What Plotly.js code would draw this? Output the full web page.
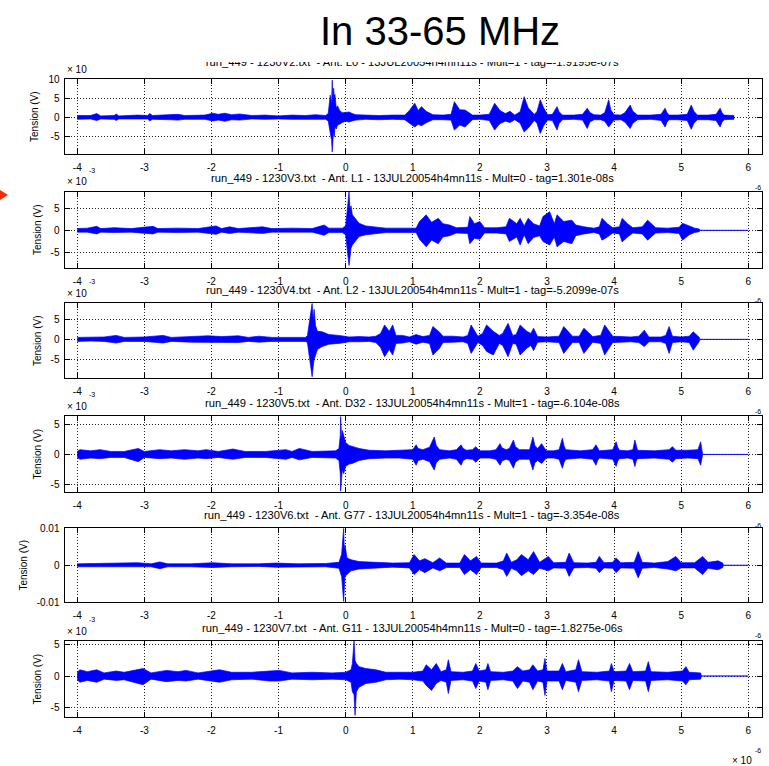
<!DOCTYPE html>
<html><head><meta charset="utf-8">
<script src="https://cdn.plot.ly/plotly-3.0.1.min.js"></script>
<style>html,body{margin:0;padding:0;background:#fff}#chart{width:769px;height:766px}</style>
</head><body><div id="chart"></div>
<script>
// ---------- DATA (time in 1e-6 s, amplitude envelope: upper / lower) ----------
const X_TICKS = [-4,-3,-2,-1,0,1,2,3,4,5,6];
const X_TICK_LABELS = ['-4','-3','-2','-1','0','1','2','3','4','5','6'];

const TITLES = [
 'run_449 - 1230V2.txt  - Ant. L0 - 13JUL20054h4mn11s - Mult=1 - tag=-1.9195e-07s',
 'run_449 - 1230V3.txt  - Ant. L1 - 13JUL20054h4mn11s - Mult=0 - tag=1.301e-08s',
 'run_449 - 1230V4.txt  - Ant. L2 - 13JUL20054h4mn11s - Mult=1 - tag=-5.2099e-07s',
 'run_449 - 1230V5.txt  - Ant. D32 - 13JUL20054h4mn11s - Mult=1 - tag=-6.104e-08s',
 'run_449 - 1230V6.txt  - Ant. G77 - 13JUL20054h4mn11s - Mult=1 - tag=-3.354e-08s',
 'run_449 - 1230V7.txt  - Ant. G11 - 13JUL20054h4mn11s - Mult=0 - tag=-1.8275e-06s'
];

// Panel 1 (x 1e-3 V)
const T1 = [-4.0,-3.8,-3.71,-3.65,-3.45,-3.42,-3.38,-3.1,-2.95,-2.92,
 -2.88,-2.6,-2.5,-2.4,-2.1,-1.98,-1.9,-1.8,-1.7,-1.58,
 -1.4,-1.2,-1.0,-0.8,-0.6,-0.45,-0.3,-0.26,-0.23,-0.21,
 -0.2,-0.19,-0.18,-0.17,-0.16,-0.14,-0.12,-0.09,-0.05,0.0,
 0.05,0.1,0.15,0.3,0.5,0.7,0.88,0.95,1.03,1.08,
 1.13,1.2,1.3,1.45,1.57,1.62,1.7,1.78,1.89,2.0,
 2.14,2.22,2.3,2.38,2.45,2.52,2.6,2.66,2.72,2.81,
 2.85,2.9,2.95,3.01,
 3.08,3.15,3.18,3.23,3.4,3.53,3.6,3.64,3.7,3.8,
 3.86,3.92,3.95,4.0,4.1,4.16,4.24,4.28,4.35,4.55,
 4.7,4.76,4.79,4.82,4.95,5.09,5.15,5.19,5.24,5.4,
 5.52,5.58,5.61,5.64,5.79];
const HI1 = [0.5,0.5,1.0,0.4,0.5,0.9,0.4,0.6,0.5,1.0,
 0.5,0.7,0.8,0.5,0.6,1.1,0.8,1.1,0.7,0.9,
 0.5,0.6,0.4,0.6,0.5,0.7,0.5,1.0,5.8,3.5,
 9.7,4,7.6,5.5,6,2.5,3,1.8,1.2,1.3,
 1.4,1.0,0.7,0.6,0.5,0.6,0.6,1.8,3.7,1.8,
 2.8,1.6,0.7,0.6,0.8,4.1,2,1.9,0.6,0.6,
 0.8,3.7,1.8,1.0,1.6,0.6,1.5,5.4,2.5,0.8,
 1.5,4.6,2.5,0.7,
 0.8,2.8,1.5,0.6,0.6,0.8,2.4,1.3,0.7,0.6,
 1.2,4.6,2.0,0.7,0.6,1.2,3.2,1.6,0.6,0.6,
 0.8,2.4,1.2,0.6,0.6,0.8,3.2,1.6,0.6,0.6,
 0.8,2.4,1.2,0.6,0.5];
const LO1 = [-0.5,-0.4,-0.8,-0.4,-0.5,-0.8,-0.4,-0.5,-0.4,-0.9,
 -0.5,-0.6,-0.7,-0.5,-0.5,-0.9,-0.7,-1.0,-0.6,-0.7,
 -0.4,-0.5,-0.4,-0.5,-0.5,-0.6,-0.5,-0.9,-4.5,-6,
 -9.0,-7,-3.5,-5,-2.5,-3,-2,-1.8,-1.3,-1.0,
 -1.2,-0.9,-0.7,-0.5,-0.6,-0.5,-0.6,-1.5,-2.5,-1.8,
 -2.2,-1.4,-0.6,-0.6,-0.7,-3.3,-2,-2.5,-0.6,-0.5,
 -0.8,-3.3,-1.6,-1.0,-1.3,-0.6,-1.5,-3.8,-2.8,-0.8,
 -1.5,-4.2,-2.2,-0.7,
 -0.8,-3.3,-1.6,-0.6,-0.5,-0.7,-2.9,-1.2,-0.6,-0.6,
 -1,-2.5,-1.8,-0.7,-0.6,-1.2,-2.9,-1.5,-0.6,-0.5,
 -0.8,-2.5,-1.2,-0.6,-0.6,-0.8,-3.1,-1.5,-0.6,-0.6,
 -0.8,-2.5,-1.2,-0.6,-0.5];

// Panel 2 (x 1e-3 V)
const T2 = [-4.0,-3.85,-3.71,-3.65,-3.45,-3.2,-2.87,-2.8,-2.5,-2.2,
 -1.93,-1.85,-1.73,-1.6,-1.24,-1.1,-0.8,-0.5,-0.32,-0.25,
 -0.05,0.0,0.03,0.05,0.065,0.08,0.1,0.14,0.2,0.3,
 0.45,0.6,0.8,1.05,1.1,1.2,1.28,1.38,1.45,1.55,
 1.65,1.82,1.85,1.92,2.0,2.07,2.25,2.39,2.44,2.55,
 2.6,2.66,2.72,2.8,2.89,2.94,3.04,3.11,3.15,3.25,
 3.37,3.43,3.55,3.7,3.78,3.82,3.9,3.98,4.08,4.12,
 4.2,4.28,4.42,4.5,4.62,4.8,4.97,5.02,5.12,5.2,
 5.27,5.28,6.0];
const HI2 = [0.4,0.5,0.9,0.4,0.6,0.4,0.9,0.4,0.5,0.4,
 1.0,0.4,0.8,0.4,0.8,0.4,0.5,0.4,1.2,0.5,
 0.5,1.0,5.4,8.7,4.5,5.5,3.5,2.8,1.6,1.0,
 0.8,0.5,0.5,0.5,2.0,3.5,1.8,2.7,1.5,1.2,
 0.6,0.7,3.1,1.5,2.0,0.6,0.6,0.8,2.7,1.5,
 2.7,1.0,2.7,1.5,1.0,3.1,4.2,1.5,3.5,2.0,
 2.3,1.2,0.8,0.5,0.8,2.7,1.5,0.6,0.8,2.7,
 1.5,0.6,0.8,2.3,0.6,0.5,0.7,1.6,1.0,0.5,
 0.3,0,0];
const LO2 = [-0.4,-0.4,-0.8,-0.4,-0.5,-0.4,-0.8,-0.4,-0.5,-0.4,
 -0.9,-0.4,-0.7,-0.4,-0.7,-0.4,-0.4,-0.4,-1.1,-0.5,
 -0.5,-1.0,-5.2,-7.9,-6,-4,-3.3,-2.5,-1.4,-1.0,
 -0.7,-0.5,-0.5,-0.5,-2.0,-3.7,-2.2,-3.0,-1.5,-1.2,
 -0.6,-0.7,-3.0,-1.8,-2.0,-0.6,-0.6,-0.8,-2.5,-1.5,
 -3.3,-1.0,-3.0,-1.6,-1.2,-2.5,-3.3,-1.5,-3.7,-2.5,
 -3.0,-1.2,-0.8,-0.5,-0.8,-2.2,-1.5,-0.6,-0.8,-2.6,
 -1.5,-0.6,-0.8,-2.2,-0.6,-0.5,-0.7,-2.2,-1.0,-0.5,
 -0.3,0,0];

// Panel 3 (x 1e-3 V)
const T3 = [-4.0,-3.8,-3.6,-3.42,-3.3,-3.0,-2.72,-2.6,-2.3,-2.05,
 -1.85,-1.6,-1.45,-1.29,-1.1,-0.8,-0.6,-0.57,-0.55,-0.52,
 -0.5,-0.485,-0.47,-0.45,-0.42,-0.35,-0.25,-0.1,0.05,0.2,
 0.35,0.45,0.52,0.58,0.65,0.7,0.75,0.85,0.95,1.05,
 1.15,1.25,1.3,1.4,1.45,1.6,1.75,1.82,1.87,1.97,
 2.04,2.1,2.2,2.29,2.34,2.42,2.49,2.54,2.6,2.7,
 2.76,2.8,2.86,3.0,3.18,3.25,3.38,3.48,3.55,3.68,
 3.8,3.86,3.98,4.1,4.25,4.37,4.45,4.52,4.7,4.77,
 4.82,4.87,5.0,5.12,5.18,5.27,5.28,6.0];
const HI3 = [0.5,0.5,0.6,1.0,0.5,0.6,1.0,0.5,0.8,0.9,
 0.7,0.9,0.5,0.8,0.5,0.6,0.5,0.9,3,6,
 9,5,7.5,3.5,2,1.9,1.2,1.0,0.6,0.7,
 0.6,0.8,1.5,3.6,2.0,3.6,1.0,1.0,0.6,1.2,
 0.7,1.0,3.2,1.8,0.8,0.8,0.6,1.0,3.6,0.8,
 1.5,3.6,2.0,1.0,1.5,4.0,1.0,1.2,3.6,2.0,
 1.5,2.8,0.7,0.6,0.8,3.2,0.8,0.8,2.8,0.7,
 1.0,3.6,0.8,0.7,0.6,0.8,2.3,0.6,0.6,1.0,
 3.2,0.8,0.6,0.8,1.9,0.5,0,0];
const LO3 = [-0.5,-0.4,-0.5,-0.9,-0.5,-0.5,-0.9,-0.5,-0.7,-0.8,
 -0.7,-0.8,-0.5,-0.7,-0.5,-0.5,-0.5,-0.8,-3,-6.8,
 -9.3,-7,-5,-4,-2.5,-1.8,-1.2,-1.0,-0.6,-0.6,
 -0.5,-0.8,-2.0,-4.3,-2.5,-3.9,-1.0,-0.9,-0.6,-1.2,
 -0.7,-1.0,-3.9,-2.2,-0.8,-0.7,-0.6,-1.0,-3.5,-0.8,
 -1.5,-3.0,-3.9,-1.0,-1.5,-4.3,-1.0,-1.2,-3.9,-2.2,
 -1.5,-2.8,-0.7,-0.6,-0.8,-3.5,-0.8,-0.8,-3.5,-0.7,
 -1.0,-3.9,-0.8,-0.7,-0.6,-0.8,-1.8,-0.6,-0.6,-1.0,
 -3.5,-0.8,-0.6,-0.8,-2.7,-0.5,0,0];

// Panel 4 (x 1e-3 V)
const T4 = [-4.0,-3.96,-3.8,-3.66,-3.5,-3.3,-3.09,-3.0,-2.77,-2.6,
 -2.4,-2.2,-2.08,-1.9,-1.68,-1.5,-1.2,-0.89,-0.8,-0.69,
 -0.5,-0.3,-0.15,-0.1,-0.08,-0.075,-0.06,-0.05,-0.03,0.0,
 0.05,0.1,0.2,0.35,0.6,0.8,1.0,1.05,1.08,1.15,
 1.25,1.32,1.35,1.4,1.55,1.65,1.72,1.75,1.8,1.89,
 1.94,1.97,2.0,2.15,2.24,2.3,2.33,2.39,2.44,2.5,
 2.53,2.59,2.74,2.79,2.82,2.86,2.92,2.99,3.1,3.18,
 3.23,3.255,3.28,3.5,3.68,3.73,3.755,3.78,3.98,4.03,
 4.055,4.08,4.2,4.28,4.31,4.33,4.35,4.6,4.82,4.87,
 4.895,4.92,5.1,5.25,5.29,5.31,5.32,6.0];
const HI4 = [0.5,0.8,0.6,0.8,0.5,0.5,1.0,0.5,0.8,0.6,
 0.8,0.6,0.8,0.5,0.9,0.5,0.5,0.8,0.5,1.0,
 0.5,0.5,0.6,1.0,3.2,6.3,2.5,4.0,3.2,2.0,
 1.5,1.3,1.0,0.7,0.6,0.7,0.8,1.6,1.0,0.8,
 1.2,2.9,1.5,0.8,0.6,0.8,1.6,1.0,0.7,0.8,
 1.3,0.9,0.6,0.6,0.8,1.8,1.1,0.8,1.0,2.4,
 1.3,0.8,0.8,2.9,1.5,1.0,1.8,0.6,0.6,0.8,
 2.7,1.4,0.8,0.6,0.8,1.6,1.0,0.6,0.8,2.1,
 1.2,0.7,0.6,0.8,2.4,1.3,0.7,0.6,0.8,1.3,
 0.9,0.7,0.7,0.8,2.1,0.5,0,0];
const LO4 = [-0.5,-0.8,-0.6,-0.7,-0.5,-0.5,-1.2,-0.5,-0.7,-0.6,
 -0.8,-0.6,-0.7,-0.5,-0.8,-0.5,-0.5,-0.8,-0.5,-0.9,
 -0.5,-0.5,-0.6,-1.0,-3.2,-6.1,-4.5,-2.5,-3.2,-2.0,
 -1.6,-1.5,-1.0,-0.7,-0.6,-0.6,-0.8,-1.8,-1.0,-0.8,
 -1.2,-2.6,-1.4,-0.8,-0.6,-0.8,-1.8,-1.0,-0.7,-0.8,
 -1.3,-0.9,-0.6,-0.6,-0.8,-1.8,-1.1,-0.8,-1.0,-2.3,
 -1.3,-0.8,-0.8,-2.6,-1.4,-1.0,-1.5,-0.6,-0.6,-0.8,
 -2.3,-1.3,-0.8,-0.6,-0.8,-1.8,-1.0,-0.6,-0.8,-2.0,
 -1.1,-0.7,-0.6,-0.8,-2.0,-1.1,-0.7,-0.6,-0.8,-1.3,
 -0.9,-0.7,-0.6,-0.7,-1.8,-0.5,0,0];

// Panel 5 (V)
const T5 = [-4.0,-3.7,-3.4,-3.1,-2.9,-2.77,-2.65,-2.3,-1.98,-1.7,
 -1.3,-1.04,-0.7,-0.3,-0.1,-0.06,-0.03,-0.02,-0.01,0.02,
 0.08,0.2,0.45,0.7,0.95,1.02,1.1,1.18,1.3,1.4,
 1.5,1.7,1.77,1.86,1.95,2.02,2.25,2.35,2.4,2.47,
 2.55,2.62,2.72,2.8,2.89,3.02,3.1,3.28,3.33,3.4,
 3.6,3.73,3.78,3.85,3.98,4.03,4.1,4.3,4.36,4.42,
 4.6,4.8,4.92,5.0,5.2,5.32,5.4,5.55,5.62,5.63,
 6.0];
const HI5 = [0.0004,0.0005,0.0004,0.0007,0.0004,0.0009,0.0004,0.0004,0.0007,0.0004,
 0.0004,0.0006,0.0004,0.0005,0.0008,0.003,0.01,0.004,0.0055,0.002,
 0.0015,0.001,0.0008,0.0006,0.0007,0.0029,0.0012,0.0018,0.0007,0.002,
 0.0006,0.0006,0.0029,0.0012,0.0024,0.0006,0.0006,0.0012,0.0033,0.0008,
 0.0015,0.0029,0.0015,0.0037,0.0008,0.0024,0.0007,0.0008,0.0033,0.0007,
 0.0006,0.0008,0.0024,0.0007,0.0008,0.002,0.0007,0.0008,0.0037,0.0008,
 0.0006,0.001,0.0024,0.0007,0.0007,0.0024,0.0008,0.0012,0.0006,0,
 0];
const LO5 = [-0.0004,-0.0004,-0.0004,-0.0006,-0.0004,-0.0009,-0.0004,-0.0004,-0.0006,-0.0004,
 -0.0003,-0.0005,-0.0004,-0.0004,-0.0008,-0.003,-0.0098,-0.006,-0.003,-0.0025,
 -0.0015,-0.001,-0.0007,-0.0005,-0.0007,-0.0025,-0.0012,-0.002,-0.0007,-0.0015,
 -0.0006,-0.0006,-0.0025,-0.0012,-0.0025,-0.0006,-0.0006,-0.0012,-0.003,-0.0008,
 -0.0015,-0.0028,-0.0015,-0.0025,-0.0008,-0.0015,-0.0007,-0.0008,-0.003,-0.0007,
 -0.0006,-0.0008,-0.002,-0.0007,-0.0008,-0.002,-0.0007,-0.0008,-0.0034,-0.0008,
 -0.0006,-0.001,-0.0015,-0.0007,-0.0007,-0.0025,-0.0008,-0.0012,-0.0006,0,
 0];

// Panel 6 (x 1e-3 V)
const T6 = [-4.0,-3.96,-3.85,-3.71,-3.6,-3.42,-3.3,-3.02,-2.9,-2.67,
 -2.5,-2.38,-2.2,-1.88,-1.7,-1.4,-1.13,-0.99,-0.8,-0.5,
 -0.2,0.0,0.08,0.1,0.125,0.14,0.16,0.2,0.3,0.45,
 0.6,0.8,1.0,1.15,1.2,1.28,1.35,1.42,1.5,1.53,
 1.57,1.75,1.89,1.94,1.99,2.09,2.12,2.16,2.35,2.49,
 2.56,2.64,2.74,2.79,2.86,2.94,2.97,3.0,3.18,3.23,
 3.28,3.43,3.47,3.52,3.75,3.93,3.96,4.0,4.18,4.23,
 4.28,4.47,4.51,4.55,4.8,5.02,5.07,5.12,5.29,5.3,
 6.0];
const HI6 = [0.6,1.0,0.7,1.0,0.5,0.8,0.6,1.2,0.5,0.9,
 0.7,0.9,0.5,1.0,0.6,0.6,0.8,0.9,0.5,0.6,
 0.5,0.6,1.0,2.0,5.6,2.5,2.0,1.5,1.2,1.0,
 0.6,0.6,0.6,0.8,1.8,1.0,2.0,0.7,1.0,2.6,
 0.7,0.6,0.8,2.0,0.8,1.0,2.0,0.7,0.6,0.8,
 1.5,0.8,1.0,1.8,0.8,1.0,2.8,0.8,0.8,2.0,
 0.7,1.0,2.6,0.7,0.6,0.8,2.0,0.7,0.8,2.0,
 0.7,0.8,2.3,0.7,0.6,0.8,1.5,0.6,0.5,0,
 0];
const LO6 = [-0.6,-1.0,-0.7,-1.0,-0.5,-0.7,-0.6,-1.4,-0.5,-0.9,
 -0.7,-0.8,-0.5,-1.0,-0.6,-0.5,-0.8,-0.8,-0.5,-0.6,
 -0.5,-0.6,-1.0,-2.5,-3.0,-6.3,-2.5,-1.8,-1.2,-1.0,
 -0.6,-0.5,-0.6,-0.8,-1.5,-2.3,-1.2,-0.7,-1.0,-2.8,
 -0.7,-0.6,-0.8,-2.0,-0.8,-1.0,-2.2,-0.7,-0.6,-0.8,
 -2.0,-0.8,-1.0,-2.2,-0.8,-1.0,-3.1,-0.8,-0.8,-2.2,
 -0.7,-1.0,-2.5,-0.7,-0.6,-0.8,-2.5,-0.7,-0.8,-2.2,
 -0.7,-0.8,-2.5,-0.7,-0.6,-0.8,-1.4,-0.6,-0.5,0,
 0];

const Y_TICKS_1 = [-5,0,5,10];
const Y_TICKS_STD = [-5,0,5];
const Y_TICKS_5 = [-0.01,0,0.01];
const Y_TICK_LABELS_5 = ['-0.01','0','0.01'];

// ---------- LAYOUT ----------
const W = 769, H = 766;
const fx = p => p / W;
const fy = p => 1 - p / H;
const FONT = 'Liberation Sans, Arial, Helvetica, sans-serif';
const BLUE = '#0000ff';
const XRANGE = [-4.19, 6.2];
const XDOM = [fx(64.5), fx(761.7)];

const panels = [
  {t:T1, hi:HI1, lo:LO1, top:79,    bot:154.3, yr:[-9.6,10],   tv:Y_TICKS_1,   tt:Y_TICKS_1.map(String), exp:true},
  {t:T2, hi:HI2, lo:LO2, top:191.7, bot:267.7, yr:[-8.4,8.7],  tv:Y_TICKS_STD, tt:Y_TICKS_STD.map(String), exp:true},
  {t:T3, hi:HI3, lo:LO3, top:303.3, bot:378.3, yr:[-9.7,9.0],  tv:Y_TICKS_STD, tt:Y_TICKS_STD.map(String), exp:true},
  {t:T4, hi:HI4, lo:LO4, top:416,   bot:492.3, yr:[-6.3,6.4],  tv:Y_TICKS_STD, tt:Y_TICKS_STD.map(String), exp:true},
  {t:T5, hi:HI5, lo:LO5, top:528.3, bot:602.3, yr:[-0.01,0.01],tv:Y_TICKS_5,   tt:Y_TICK_LABELS_5, exp:false},
  {t:T6, hi:HI6, lo:LO6, top:641,   bot:717.3, yr:[-6.6,5.6],  tv:Y_TICKS_STD, tt:Y_TICKS_STD.map(String), exp:true}
];

const data = [];
const layout = {
  width: W, height: H,
  margin: {l:0, r:0, t:0, b:0},
  paper_bgcolor: '#ffffff', plot_bgcolor: '#ffffff',
  showlegend: false,
  font: {family: FONT, size: 10, color: '#000'},
  annotations: [], shapes: []
};

const SUBTITLE_SIZE = 11.2;

panels.forEach((p, i) => {
  const k = i + 1;
  const xs = k === 1 ? '' : String(k);
  data.push({x:p.t, y:p.hi, xaxis:'x'+xs, yaxis:'y'+xs, type:'scatter', mode:'lines',
    line:{color:BLUE, width:0.7}, hoverinfo:'skip'});
  data.push({x:p.t, y:p.lo, xaxis:'x'+xs, yaxis:'y'+xs, type:'scatter', mode:'lines',
    line:{color:BLUE, width:0.7}, fill:'tonexty', fillcolor:BLUE, hoverinfo:'skip'});
  const common = {
    ticks:'inside', ticklen:5, tickcolor:'#000', tickwidth:1,
    mirror:'ticks', showline:true, linecolor:'#000', linewidth:1,
    showgrid:true, gridcolor:'#222', griddash:'1px,2px', gridwidth:1,
    zeroline:false, tickfont:{family:FONT, size:10, color:'#000'}, fixedrange:true
  };
  layout['xaxis'+xs] = Object.assign({}, common, {
    domain: XDOM, anchor:'y'+xs, range: XRANGE,
    tickmode:'array', tickvals: X_TICKS, ticktext: X_TICK_LABELS, ticklabelstandoff: 4
  });
  layout['yaxis'+xs] = Object.assign({}, common, {
    domain: [fy(p.bot), fy(p.top)], anchor:'x'+xs, range: p.yr,
    tickmode:'array', tickvals: p.tv, ticktext: p.tt, ticklabelstandoff: 2,
    title: {text:'Tension (V)', font:{family:FONT, size:10, color:'#000'}, standoff: 7}
  });
  if (k > 1) {
    layout.annotations.push({xref:'paper', yref:'paper', x: fx(412), y: fy(p.top - 13.5),
      xanchor:'center', yanchor:'middle', showarrow:false, text: TITLES[i],
      font:{family:FONT, size:SUBTITLE_SIZE, color:'#000'}});
  }
  if (p.exp) {
    layout.annotations.push({xref:'paper', yref:'paper', x: fx(65), y: fy(p.top - 10),
      xanchor:'left', yanchor:'middle', showarrow:false, text:'\u00d7 10',
      font:{family:FONT, size:10, color:'#000'}});
    if (k > 1) {
      layout.annotations.push({xref:'paper', yref:'paper', x: fx(87), y: fy(p.top - 21.5),
        xanchor:'left', yanchor:'middle', showarrow:false, text:'-3',
        font:{family:FONT, size:7, color:'#000'}});
    }
  }
  layout.annotations.push({xref:'paper', yref:'paper', x: fx(763), y: fy(p.bot + 33),
    xanchor:'right', yanchor:'middle', showarrow:false, text:'-6',
    font:{family:FONT, size:7, color:'#000'}});
});
layout.annotations.push({xref:'paper', yref:'paper', x: fx(742), y: fy(760),
  xanchor:'center', yanchor:'middle', showarrow:false, text:'\u00d7 10',
  font:{family:FONT, size:10, color:'#000'}});

// Panel 1 title, clipped at its top by the slide's title band
data.push({x:[0.536], y:[0.9], xaxis:'x7', yaxis:'y7', type:'scatter', mode:'text',
  text:[TITLES[0]], textposition:'middle center', cliponaxis:true,
  textfont:{family:FONT, size:SUBTITLE_SIZE, color:'#000'}, hoverinfo:'skip'});
layout.xaxis7 = {domain:[0,1], anchor:'y7', range:[0,1], visible:false, fixedrange:true};
layout.yaxis7 = {domain:[fy(78), fy(62)], anchor:'x7', range:[0,1], visible:false, fixedrange:true};

layout.annotations.push({xref:'paper', yref:'paper', x: fx(440), y: fy(31),
  xanchor:'center', yanchor:'middle', showarrow:false, text:'In 33-65 MHz',
  font:{family:FONT, size:40, color:'#000'}});

layout.shapes.push({type:'path', xref:'paper', yref:'paper',
  path:`M 0 ${fy(190)} L ${fx(8)} ${fy(195)} L 0 ${fy(200)} Z`,
  fillcolor:'#ff2a00', line:{width:0}});

Plotly.newPlot('chart', data, layout, {staticPlot:true, displayModeBar:false});
</script>
</body></html>
